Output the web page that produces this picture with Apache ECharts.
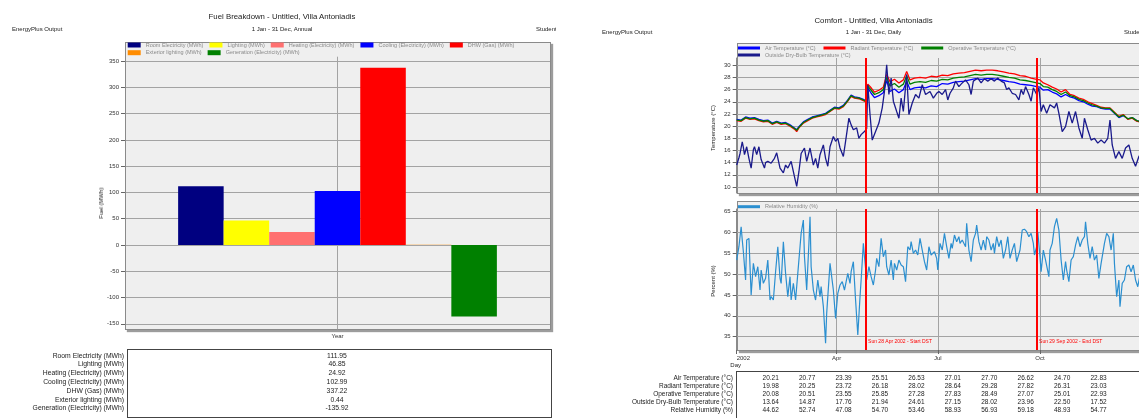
<!DOCTYPE html>
<html><head><meta charset="utf-8">
<script src="https://cdn.jsdelivr.net/npm/echarts@6/dist/echarts.min.js"></script>
<style>
html,body{margin:0;padding:0;background:#fff;}
body{width:1139px;height:418px;overflow:hidden;position:relative;font-family:"Liberation Sans",Arial,sans-serif;color:#222;}
.t{position:absolute;white-space:nowrap;line-height:1;z-index:3;}
.frame{position:absolute;background:#efefef;border:1px solid #8a8a8a;box-shadow:2px 2px 1px #9c9c9c;box-sizing:border-box;z-index:0;}
.box{position:absolute;border:1px solid #444;box-sizing:border-box;background:#fff;z-index:0;}
#chart{position:absolute;left:0;top:0;width:1160px;height:418px;z-index:1;}
</style></head>
<body>
<div class="frame" style="left:125px;top:41.7px;width:426px;height:288.6px"></div>
<div class="frame" style="left:736.7px;top:43px;width:406px;height:150.5px"></div>
<div class="frame" style="left:736.7px;top:201px;width:406px;height:149.5px"></div>
<div class="box" style="left:127px;top:348.6px;width:425px;height:69px"></div>
<div class="box" style="left:736px;top:371px;width:430px;height:60px"></div>
<div id="chart"></div>
<script>
// ---------- Fuel breakdown data ----------
const fuelCategory = ['Year'];
const fuelNames = ['Room Electricity (MWh)','Lighting (MWh)','Heating (Electricity) (MWh)','Cooling (Electricity) (MWh)','DHW (Gas) (MWh)','Exterior lighting (MWh)','Generation (Electricity) (MWh)'];
const fuelValues = [111.95, 46.85, 24.92, 102.99, 337.22, 0.44, -135.92];
const fuelColors = ['#000080','#ffff00','#ff7070','#0000ff','#ff0000','#ff8c00','#008000'];
const fuelTicks = [-150,-100,-50,0,50,100,150,200,250,300,350];

// ---------- Comfort data (day of year, value) ----------
const quarterDays = [0, 90, 181, 273];
const quarterLabels = ['2002','Apr','Jul','Oct'];
const tempTicks = [10,12,14,16,18,20,22,24,26,28,30];
const rhTicks = [35,40,45,50,55,60,65];
const tempNames = ['Air Temperature (°C)','Radiant Temperature (°C)','Operative Temperature (°C)','Outside Dry-Bulb Temperature (°C)'];
const tempColors = ['#0000ff','#ff0000','#008000','#1a1a8c'];
const rhName = 'Relative Humidity (%)';
const rhColor = '#2b8fd0';
const dstDays = [116.4, 270.3];
const dstLabels = ['Sun 28 Apr 2002 - Start DST','Sun 29 Sep 2002 - End DST'];

const indoorDays = [0,4,8,12,16,20,24,28,32,36,40,44,48,52,54,56,60,64,68,72,76,80,84,88,92,96,100,103,106,110,114,116,118,121,124,128,132,135,138,142,146,150,153,156,160,165,170,175,180,185,190,195,200,205,210,215,220,225,230,235,240,245,250,255,260,265,270,273,276,280,284,288,292,296,300,304,308,312,316,320,324,328,332,336,340,344,348,352,356,360,364];
const airTemp = [21.1,21.0,21.5,21.3,21.4,21.1,20.9,21.0,20.5,20.8,20.5,20.6,20.2,19.7,19.4,19.9,20.7,21.1,21.5,21.7,21.9,22.1,22.6,23.1,23.0,23.4,24.3,25.1,24.8,24.7,24.4,24.2,26.3,25.4,24.7,25.0,25.5,27.5,25.7,26.1,25.5,26.0,27.4,26.0,26.3,26.4,26.3,26.6,26.5,27.0,26.9,27.2,27.3,27.4,27.6,27.8,27.7,27.8,27.8,27.7,27.5,27.3,27.2,26.9,26.8,26.7,26.5,26.4,25.9,26.0,25.6,25.3,24.8,25.2,24.8,24.6,24.2,24.0,23.6,23.3,23.2,22.9,22.8,22.8,22.1,21.4,21.7,21.2,21.4,20.9,20.7];
const radiantTemp = [20.9,20.8,21.3,21.1,21.2,20.9,20.7,20.8,20.3,20.6,20.3,20.4,20.0,19.5,19.1,19.7,20.5,20.9,21.3,21.5,21.7,21.9,22.4,22.9,22.8,23.2,24.1,24.9,24.6,24.5,24.2,24.0,26.9,26.3,25.6,25.9,26.4,28.5,27.3,27.7,27.1,27.6,29.0,27.6,27.9,28.0,27.9,28.2,28.1,28.4,28.3,28.6,28.7,28.8,29.0,29.2,29.1,29.2,29.2,29.1,28.9,28.7,28.6,28.3,28.2,27.9,27.7,27.6,27.1,26.8,26.4,26.1,25.6,26.0,25.2,25.0,24.6,24.4,24.0,23.7,23.4,23.1,23.0,23.0,22.3,21.6,21.9,21.1,21.3,20.8,20.6];
const operativeTemp = [21.0,20.9,21.4,21.2,21.3,21.0,20.8,20.9,20.4,20.7,20.4,20.5,20.1,19.6,19.3,19.8,20.6,21.0,21.4,21.6,21.8,22.0,22.5,23.0,22.9,23.3,24.2,25.0,24.7,24.6,24.3,24.1,26.6,25.9,25.2,25.5,26.0,28.0,26.6,27.0,26.4,26.9,28.3,26.9,27.2,27.3,27.2,27.5,27.4,27.7,27.6,27.9,28.0,28.1,28.3,28.5,28.4,28.5,28.5,28.4,28.2,28.0,27.9,27.6,27.5,27.3,27.1,27.0,26.5,26.4,26.0,25.7,25.2,25.6,25.0,24.8,24.4,24.2,23.8,23.5,23.3,23.0,22.9,22.9,22.2,21.5,21.8,21.2,21.4,20.9,20.7];

const outsideTemp = [[0,13.6],[2,14.8],[3,15.5],[5,17.4],[6,16.5],[7,15.3],[9,16.6],[11,14.7],[13,13.1],[15,16.1],[16,16.6],[18,15.3],[20,16.6],[22,14.5],[25,13.1],[26,14.0],[28,14.2],[31,13.9],[34,14.7],[36,15.6],[37,15.3],[39,13.1],[42,12.3],[44,13.6],[46,13.1],[49,14.2],[52,11.7],[54,10.1],[56,12.5],[58,15.5],[61,16.4],[63,14.2],[66,16.4],[69,13.6],[71,14.7],[73,13.1],[75,15.3],[78,16.9],[80,14.7],[82,13.4],[84,16.6],[87,18.3],[89,17.5],[91,18.0],[93,16.4],[96,15.0],[98,17.5],[101,21.3],[103,20.2],[105,19.4],[108,19.7],[110,18.0],[112,18.6],[115,19.1],[117,19.6],[118,26.8],[120,21.9],[122,17.7],[125,19.1],[128,20.5],[131,23.0],[133,25.7],[135,30.1],[137,25.2],[139,27.9],[141,24.1],[144,22.4],[146,21.3],[148,24.6],[150,22.4],[153,28.5],[155,21.9],[158,23.8],[161,25.2],[164,24.6],[167,26.8],[170,25.2],[174,25.7],[177,24.6],[180,25.4],[182,25.7],[185,25.2],[188,26.0],[190,24.3],[192,25.4],[195,26.3],[197,27.4],[200,26.5],[203,27.1],[206,27.6],[209,26.8],[211,25.2],[213,27.4],[217,27.9],[220,27.1],[223,27.8],[226,27.4],[229,27.8],[232,27.4],[235,27.9],[238,27.4],[241,27.1],[243,26.0],[245,26.3],[248,25.4],[251,25.2],[254,24.3],[256,26.0],[258,25.2],[260,26.5],[263,25.2],[265,24.1],[267,26.3],[270,25.2],[272,26.3],[274,22.4],[276,23.5],[279,22.1],[282,23.5],[286,23.0],[288,23.8],[290,22.1],[293,19.1],[296,19.9],[299,22.4],[302,20.5],[305,22.4],[308,19.7],[311,18.0],[313,21.3],[316,19.4],[319,17.7],[322,18.0],[325,17.2],[328,17.7],[331,17.2],[334,18.0],[336,21.0],[338,16.9],[341,14.7],[344,15.8],[347,14.7],[350,16.4],[353,16.9],[356,14.7],[359,13.4],[362,15.0],[364,15.6]];

const relHumidity = [[0,53.4],[2,56.6],[4,61.4],[5,58.2],[6,55.4],[8,48.6],[9,58.2],[11,58.6],[12,51.8],[13,45.0],[15,52.6],[17,49.4],[19,51.8],[21,46.2],[22,51.0],[24,47.8],[26,49.0],[28,53.4],[30,43.8],[31,44.6],[33,43.8],[35,50.6],[37,56.6],[39,49.0],[40,47.8],[42,57.8],[44,50.2],[46,44.6],[48,49.4],[49,43.8],[51,47.8],[53,43.8],[55,50.2],[57,56.6],[58,59.8],[60,63.0],[61,54.2],[63,46.2],[65,57.4],[66,63.8],[67,51.8],[69,46.2],[71,43.8],[73,48.6],[75,44.6],[76,47.0],[78,42.2],[80,33.4],[81,40.6],[84,52.6],[85,53.0],[87,46.2],[89,39.4],[91,45.4],[93,47.4],[95,48.2],[97,46.2],[100,50.2],[102,47.8],[103,50.6],[105,53.0],[107,43.8],[109,35.4],[111,44.6],[112,48.6],[114,57.4],[115,54.2],[117,48.6],[119,51.8],[121,49.4],[123,47.4],[125,51.0],[126,53.8],[128,51.8],[130,58.6],[132,54.2],[134,55.8],[135,51.8],[137,49.8],[139,53.4],[141,48.6],[142,52.6],[144,51.0],[146,53.4],[148,52.2],[150,51.8],[152,48.2],[154,56.6],[156,55.8],[157,57.8],[159,55.0],[161,55.8],[163,54.6],[165,58.6],[167,55.8],[169,53.0],[171,51.0],[173,56.6],[175,54.6],[178,55.4],[180,53.8],[181,51.0],[183,57.4],[185,55.8],[187,59.8],[189,56.6],[191,53.8],[193,57.4],[194,56.2],[196,59.4],[198,57.8],[200,59.0],[201,57.4],[203,58.2],[206,56.6],[207,62.2],[209,55.8],[211,53.0],[213,58.2],[215,59.8],[216,61.8],[218,57.8],[220,55.8],[222,58.2],[224,55.8],[225,59.0],[227,58.2],[229,55.8],[231,57.4],[232,55.0],[234,59.0],[236,56.6],[238,58.2],[240,53.8],[242,55.8],[244,59.0],[246,53.8],[248,55.8],[250,57.4],[252,53.0],[253,52.6],[255,55.8],[257,60.6],[259,60.8],[261,60.2],[263,59.0],[265,59.8],[267,57.4],[268,54.6],[270,56.6],[271,60.2],[273,54.2],[274,50.6],[276,55.8],[278,53.4],[281,49.4],[282,55.8],[284,57.4],[286,61.4],[288,63.4],[290,60.6],[292,53.4],[294,48.6],[296,53.0],[297,51.0],[299,48.2],[301,53.4],[303,54.2],[305,57.0],[307,59.0],[309,56.6],[311,58.2],[313,59.0],[314,62.6],[316,57.4],[318,53.8],[320,56.6],[322,53.4],[324,54.6],[326,49.0],[328,52.6],[330,55.8],[331,57.4],[333,59.8],[335,59.0],[337,55.8],[339,59.8],[340,52.6],[342,44.6],[344,48.6],[345,42.2],[347,47.8],[349,48.6],[351,51.8],[353,52.2],[355,50.6],[357,52.2],[359,48.6],[361,47.0],[363,49.8],[364,50.5]];

// ---------- Comfort summary table ----------
const tableRowNames = ['Air Temperature (°C)','Radiant Temperature (°C)','Operative Temperature (°C)','Outside Dry-Bulb Temperature (°C)','Relative Humidity (%)'];
const tableAir = ['20.21','20.77','23.39','25.51','26.53','27.01','27.70','26.62','24.70','22.83'];
const tableRadiant = ['19.98','20.25','23.72','26.18','28.02','28.64','29.28','27.82','26.31','23.03'];
const tableOperative = ['20.08','20.51','23.55','25.85','27.28','27.83','28.49','27.07','25.01','22.93'];
const tableOutside = ['13.64','14.87','17.76','21.94','24.61','27.15','28.02','23.96','22.50','17.52'];
const tableRH = ['44.62','52.74','47.08','54.70','53.46','58.93','56.93','59.18','48.93','54.77'];

// ---------- text helpers ----------
function txt(s, x, y, size, anchor, extra) {
  const d = document.createElement('div');
  d.className = 't';
  d.textContent = s;
  d.style.left = x + 'px';
  d.style.top = y + 'px';
  d.style.fontSize = size + 'px';
  const tx = anchor === 'center' ? '-50%' : anchor === 'right' ? '-100%' : '0';
  d.style.transform = 'translate(' + tx + ',-50%)' + (extra && extra.rotate ? ' rotate(-90deg)' : '');
  if (extra && extra.color) d.style.color = extra.color;
  if (extra && extra.clipW) { d.style.width = extra.clipW + 'px'; d.style.overflow = 'hidden'; }
  document.body.appendChild(d);
  return d;
}
// left panel header
txt('EnergyPlus Output', 12, 29, 6, 'left');
txt('Fuel Breakdown - Untitled, Villa Antoniadis', 282, 17, 7.8, 'center');
txt('1 Jan - 31 Dec, Annual', 282, 29, 6, 'center');
txt('Student', 536, 29, 6, 'left', {clipW: 20});
txt('Fuel (MWh)', 101, 203, 6, 'center', {rotate: true});
// right panel header
txt('EnergyPlus Output', 602, 32, 6, 'left');
txt('Comfort - Untitled, Villa Antoniadis', 873.5, 21, 7.8, 'center');
txt('1 Jan - 31 Dec, Daily', 873.5, 32, 6, 'center');
txt('Student', 1124, 32, 6, 'left');
txt('Temperature (°C)', 713, 128, 6, 'center', {rotate: true});
txt('Percent (%)', 713, 281, 6, 'center', {rotate: true});
txt('Day', 741, 365, 6, 'right');

// left table
fuelNames.forEach((n, i) => {
  const y = 355.5 + i * 8.8;
  txt(n, 124, y, 6.8, 'right');
  txt(fuelValues[i].toFixed(2), 337, y, 6.8, 'center');
});
// right table
const tableRows = [tableAir, tableRadiant, tableOperative, tableOutside, tableRH];
tableRows.forEach((row, r) => {
  const y = 378 + r * 7.9;
  txt(tableRowNames[r], 733, y, 6.5, 'right');
  row.forEach((v, c) => txt(v, 770.7 + c * 36.43, y, 6.5, 'center'));
});

// ---------- chart ----------
const chart = echarts.init(document.getElementById('chart'), null, {renderer: 'canvas'});
const gridLine = {show: true, lineStyle: {color: '#a3a3a3', width: 1}};
const axisTxt = {fontSize: 6, color: '#333', fontFamily: 'Liberation Sans'};
const legendBase = {padding: 0, selectedMode: false, icon: 'rect',
  textStyle: {fontSize: 5.5, color: '#8a8a8a', lineHeight: 7, fontFamily: 'Liberation Sans'}};

const series = [];
fuelNames.forEach((n, i) => series.push({
  type: 'bar', name: n, xAxisIndex: 0, yAxisIndex: 0,
  data: [fuelValues[i]], itemStyle: {color: fuelColors[i]},
  barGap: '0%', barCategoryGap: '25%', z: 3
}));
const indoorSets = [airTemp, radiantTemp, operativeTemp];
indoorSets.forEach((vals, i) => series.push({
  type: 'line', name: tempNames[i], xAxisIndex: 2, yAxisIndex: 1,
  data: indoorDays.map((d, k) => [d, vals[k]]),
  showSymbol: false, symbol: 'none',
  lineStyle: {width: 1.3, color: tempColors[i]}, itemStyle: {color: tempColors[i]},
  markLine: i === 0 ? {
    silent: true, symbol: 'none', label: {show: false},
    lineStyle: {color: '#ff0000', width: 2, type: 'solid'},
    data: dstDays.map(d => ({xAxis: d}))
  } : undefined
}));
series.push({
  type: 'line', name: tempNames[3], xAxisIndex: 2, yAxisIndex: 1,
  data: outsideTemp, showSymbol: false, symbol: 'none',
  lineStyle: {width: 1.3, color: tempColors[3]}, itemStyle: {color: tempColors[3]}
});
series.push({
  type: 'line', name: rhName, xAxisIndex: 3, yAxisIndex: 2,
  data: relHumidity, showSymbol: false, symbol: 'none',
  lineStyle: {width: 1.2, color: rhColor}, itemStyle: {color: rhColor},
  markLine: {
    silent: true, symbol: 'none', label: {show: false},
    lineStyle: {color: '#ff0000', width: 2, type: 'solid'},
    data: dstDays.map(d => ({xAxis: d}))
  },
  markPoint: {
    silent: true, symbol: 'rect', symbolSize: 0.1,
    label: {show: true, position: 'right', distance: 2, fontSize: 5, color: '#ff0000',
      fontFamily: 'Liberation Sans', formatter: p => p.name},
    data: dstDays.map((d, i) => ({name: dstLabels[i], coord: [d, 33.8]}))
  }
});

const quarterFmt = v => { const k = quarterDays.indexOf(v); return k >= 0 ? quarterLabels[k] : ''; };

chart.setOption({
  animation: false,
  backgroundColor: 'transparent',
  textStyle: {fontFamily: 'Liberation Sans'},
  legend: [
    Object.assign({}, legendBase, {data: fuelNames.slice(0, 5), left: 127.7, top: 41.5, itemWidth: 13, itemHeight: 5, itemGap: 6}),
    Object.assign({}, legendBase, {data: fuelNames.slice(5), left: 127.7, top: 49.2, itemWidth: 13, itemHeight: 5, itemGap: 6}),
    Object.assign({}, legendBase, {data: tempNames.slice(0, 3), left: 738, top: 44.5, itemWidth: 22, itemHeight: 3, itemGap: 8}),
    Object.assign({}, legendBase, {data: tempNames.slice(3), left: 738, top: 51.5, itemWidth: 22, itemHeight: 3, itemGap: 8}),
    Object.assign({}, legendBase, {data: [rhName], left: 738, top: 203.2, itemWidth: 22, itemHeight: 3, itemGap: 8})
  ],
  grid: [
    {left: 125, top: 56.7, width: 425, height: 272.6, outerBoundsMode: 'none', containLabel: false},
    {left: 736.7, top: 58, width: 404.4, height: 135, outerBoundsMode: 'none', containLabel: false},
    {left: 736.7, top: 209, width: 404.4, height: 141, outerBoundsMode: 'none', containLabel: false}
  ],
  xAxis: [
    {type: 'category', gridIndex: 0, data: fuelCategory,
     axisLine: {show: false}, splitLine: {show: false},
     axisTick: {alignWithLabel: true, length: 3, lineStyle: {color: '#666'}},
     axisLabel: Object.assign({margin: 4}, axisTxt)},
    {type: 'value', gridIndex: 0, min: 0, max: 2, position: 'top',
     axisLine: {show: false}, axisLabel: {show: false},
     axisTick: {show: false, customValues: [1]}, splitLine: gridLine},
    {type: 'value', gridIndex: 1, min: 0, max: 364,
     axisLine: {show: false}, axisLabel: {show: false, customValues: quarterDays},
     axisTick: {show: false, customValues: quarterDays}, splitLine: gridLine},
    {type: 'value', gridIndex: 2, min: 0, max: 364,
     axisLine: {show: false},
     axisLabel: Object.assign({customValues: quarterDays, formatter: quarterFmt, margin: 5, alignMinLabel: 'left'}, axisTxt),
     axisTick: {show: true, length: 4, customValues: quarterDays, lineStyle: {color: '#666'}},
     splitLine: gridLine}
  ],
  yAxis: [
    {type: 'value', gridIndex: 0, min: -160.4, max: 358.4,
     axisLine: {show: true, lineStyle: {color: '#8a8a8a'}},
     axisTick: {show: true, length: 4, customValues: fuelTicks, lineStyle: {color: '#666'}},
     axisLabel: Object.assign({customValues: fuelTicks, margin: 6}, axisTxt),
     splitLine: gridLine},
    {type: 'value', gridIndex: 1, min: 9.0, max: 31.2,
     axisLine: {show: true, lineStyle: {color: '#8a8a8a'}},
     axisTick: {show: true, length: 4, customValues: tempTicks, lineStyle: {color: '#666'}},
     axisLabel: Object.assign({customValues: tempTicks, margin: 6}, axisTxt),
     splitLine: gridLine},
    {type: 'value', gridIndex: 2, min: 31.8, max: 65.65,
     axisLine: {show: true, lineStyle: {color: '#8a8a8a'}},
     axisTick: {show: true, length: 4, customValues: rhTicks, lineStyle: {color: '#666'}},
     axisLabel: Object.assign({customValues: rhTicks, margin: 6}, axisTxt),
     splitLine: gridLine}
  ],
  series: series
});
</script>
</body></html>
